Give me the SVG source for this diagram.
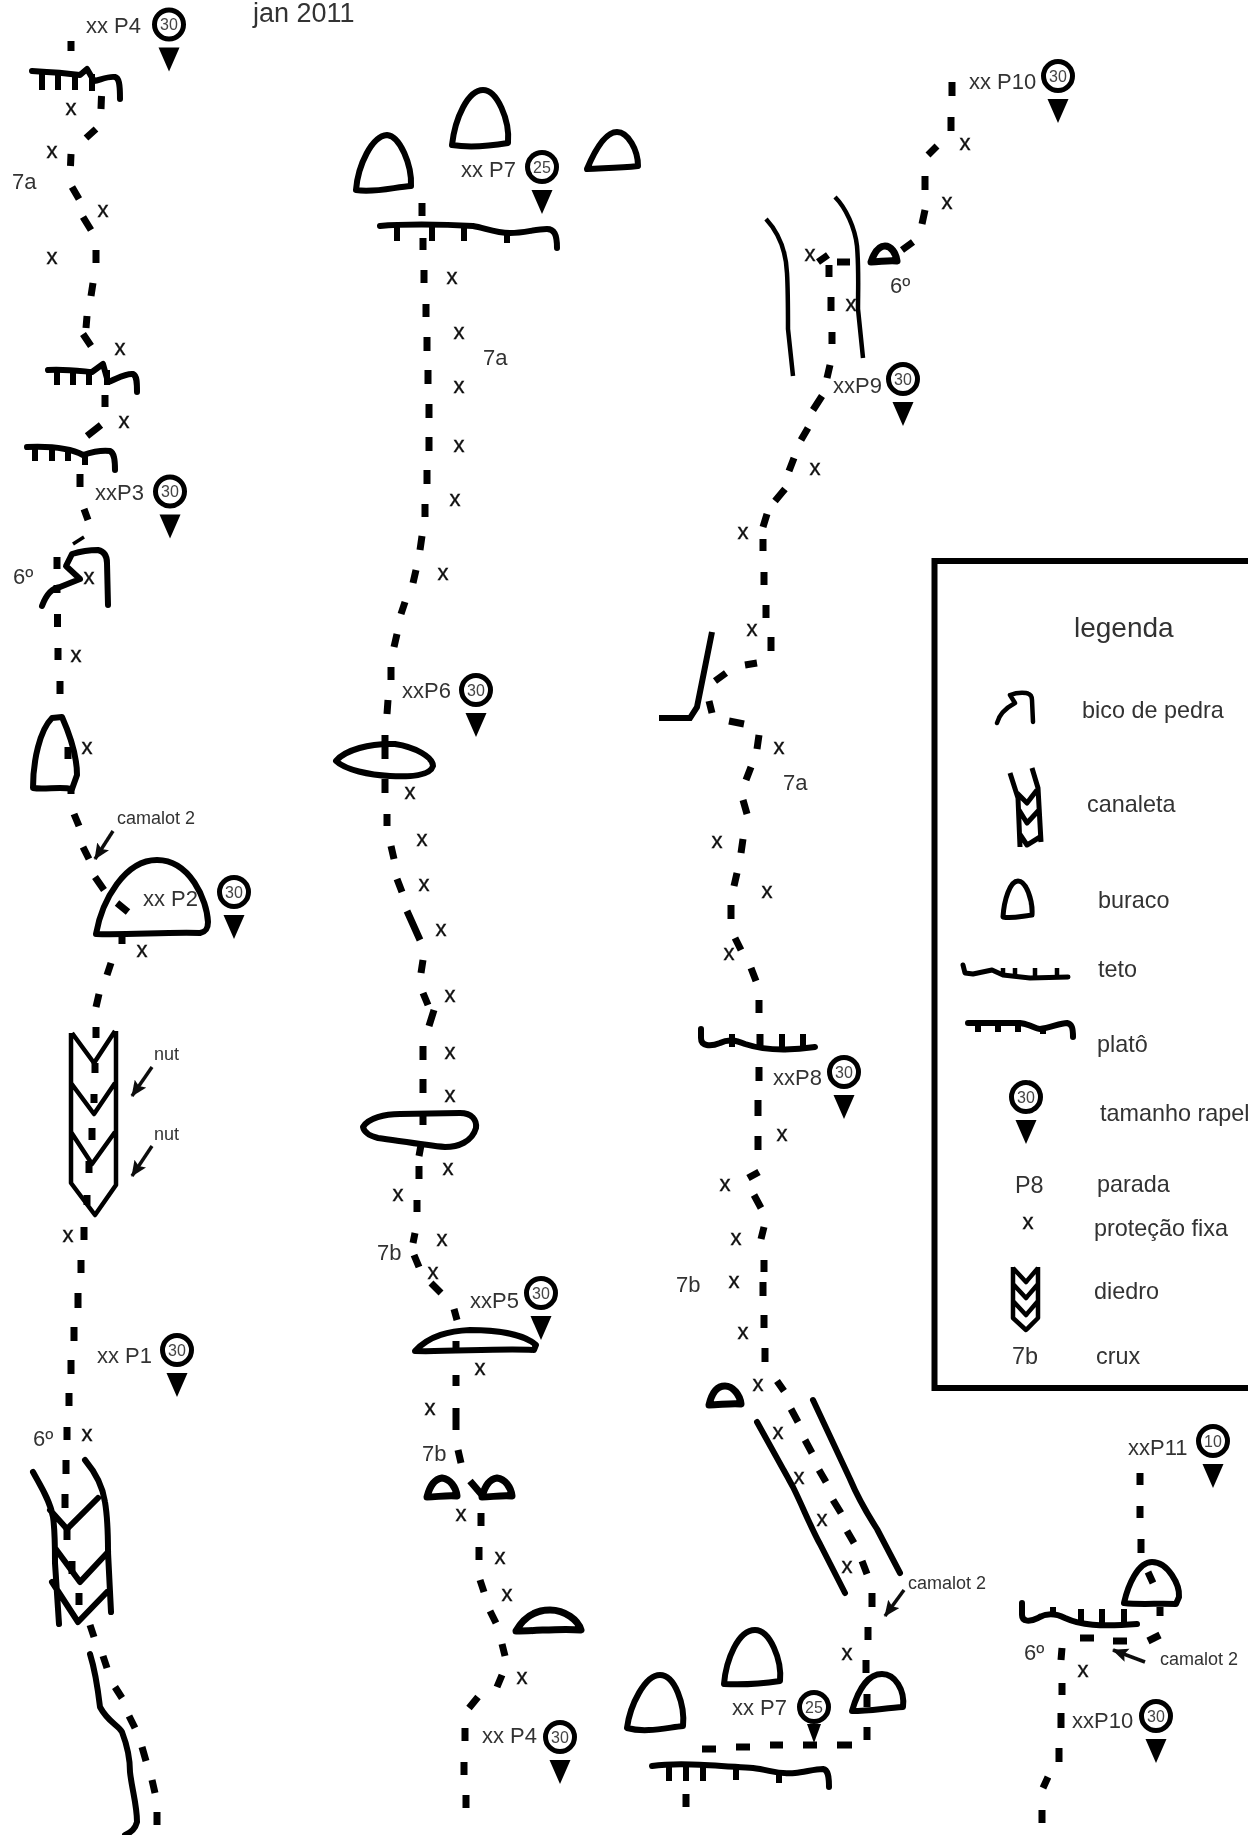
<svg xmlns="http://www.w3.org/2000/svg" xmlns:xlink="http://www.w3.org/1999/xlink" width="1248" height="1836" viewBox="0 0 1248 1836">
<style>
text{font-family:"Liberation Sans",Arial,sans-serif;fill:#333}
.l{font-size:22px}
.s{font-size:18px}
.g{font-size:23.4px}
.x{font-size:22px;text-anchor:middle;fill:#111;stroke:#111;stroke-width:.4}
.n{font-size:16px;text-anchor:middle;fill:#444}
.b{fill:none;stroke:#000;stroke-width:6;stroke-linejoin:round;stroke-linecap:round}
.h{fill:none;stroke:#000;stroke-width:7;stroke-linejoin:round;stroke-linecap:round}
.t{fill:none;stroke:#000;stroke-width:4.500;stroke-linejoin:round}
.k{fill:none;stroke:#000;stroke-width:6}
.d{fill:none;stroke:#000;stroke-width:7}
.a{fill:none;stroke:#111;stroke-width:3.500;marker-end:url(#ah)}
</style>
<defs>
<filter id="soft" x="0" y="0" width="100%" height="100%"><feGaussianBlur stdDeviation="0.7"/></filter>
<marker id="ah" markerUnits="userSpaceOnUse" markerWidth="18" markerHeight="16" refX="15" refY="7" orient="auto"><path d="M0,0 L16,7 L0,14 L3,7Z" fill="#111"/></marker>
<g id="rap"><circle cx="0" cy="0" r="14.5" fill="#fff" stroke="#000" stroke-width="5"/><path d="M-10.5,23 H10.5 L0,47Z" fill="#000"/></g>
</defs>
<rect width="1248" height="1836" fill="#fff"/>
<g filter="url(#soft)">
<g id="connectors">
<path class="d" id="route-1" d="M71 41V51M101.5 96L101 109M86 138L96 129M71 154L70.5 166M72 187L79 199M83 217L91 230M96 250V263M93 283L91 296M87 316L86 328M83 334L91 346M105 395V407M87 436L101 425M80 474V487M84 509L88 520M57 557V569M57 585V593M57.500 614V627M58 648V660M60 681V694M68 747V759M71 786V794M74 814L79 826M83 847L89 859M95 877L104 890M117 903L128 912M122 934V944M111 963L107 975M99 994L96 1007M96 1027V1038M95 1063V1073M94 1094V1103M92 1128V1140M89 1161V1173M87 1195V1205M84 1227V1240M81 1260V1273M78 1293V1308M74 1327V1341M71 1360V1374M69 1393V1406M67 1427V1440M66 1460V1474M65 1494V1508M67 1529V1540M72 1561V1574M79 1593V1605M90 1625L94 1637M103 1656L107 1668M115 1687L122 1698M129 1716L135 1728M142 1747L146 1761M152 1780L155 1793M157 1812V1825"/>
<path d="M73 544L84 537" class="k" style="stroke-width:3.500"/>
<path class="d" id="route-2" d="M422 203V216M423 238V250M424 270V283M426 304V317M427 337V351M428 370V384M429 404V418M429 437V451M427 470V484M425 504V517M422 536L420 550M416 570L413 583M405 602L401 614M397 634L394 647M391 667V680M388 700L387 714M385 735V759M385 779V793M387 814V826M391 846L394 859M397 879L402 892M407 911L420 940M423 960L421 973M423 993L428 1005M434 1010L429 1026M423 1046V1060M423 1079V1093M423 1115V1125M421 1145L419 1156M419 1166V1179M417 1200V1212M415 1233L413 1243M414 1255L419 1267M431 1283L441 1293M454 1309L457 1320M456 1341V1353M456 1375V1386M456 1408V1430M458 1450L461 1463M470 1481L482 1495M481 1513V1526M479 1547V1560M480 1580L484 1592M490 1611L496 1623M502 1644L505 1656M502 1675L497 1687M478 1697L469 1708M465 1728V1741M464 1762V1775M466 1795V1808"/>
<path class="d" id="route-3" d="M952 82V96M951 117V131M937 146L928 155M925 176V190M925 210L922 224M913 242L902 250M850 262H837M828 255L818 262M829 265V277M831 297V311M832 332V344M830 365L827 378M822 396L813 410M808 428L801 440M794 458L789 471M785 489L775 501M767 514L763 527M763 539V551M764 572V585M766 605V618M771 637V651M757 663L745 665M726 673L715 681M709 701L712 713M729 721L744 724M759 735L757 749M751 767L746 780M743 800L747 814M743 839L741 853M737 873L734 886M731 905V919M735 938L741 950M751 968L756 981M759 1000V1013M760 1034V1048M759 1067V1081M758 1100V1116M758 1136V1150M759 1172L748 1178M754 1195L761 1208M764 1227L761 1239M764 1260V1272M763 1282V1296M764 1315V1328M765 1348V1362M777 1381L784 1391M791 1409L798 1422M805 1440L812 1453M819 1470L826 1482M833 1500L841 1513M847 1531L854 1543M862 1561L867 1574M872 1593V1607M868 1627V1640M866 1660V1673M867 1694V1707M867 1727V1740M852 1745H837M817 1745H803M783 1745H770M750 1747H736M716 1749H702M686 1794V1807"/>
<path class="d" id="route-4" d="M1140 1473V1485M1140 1506V1518M1141 1539V1553M1148 1572L1153 1583M1160 1607V1616M1160 1635L1148 1641M1127 1641H1113M1094 1638H1080M1062 1648L1061 1660M1062 1683V1695M1061 1713V1728M1059 1748V1762M1048 1777L1043 1788M1042 1810V1823"/>
<path class="a" d="M113 831L95 859"/>
<path class="a" d="M152 1067L132 1096"/>
<path class="a" d="M152 1146L132 1176"/>
<path class="a" d="M904 1590L885 1616"/>
<path class="a" d="M1145 1662L1113 1650"/>
</g>

<g id="title"><text x="253" y="22" style="font-size:27px">jan 2011</text></g>

<g id="plato-1"><path class="b" d="M32 71C50 72 65 73 80 75L87 69L94 81C100 80 108 76 115 77C119 78 120 84 120 99"/><path class="k" d="M42 72V90M58 73V90M75 74V90M92 74V91"/></g>
<g id="plato-2"><path class="b" d="M48 370C65 369 80 371 92 372L103 364L108 382C115 380 125 373 133 374C137 376 137 382 137 392"/><path class="k" d="M57 371V385M73 372V385M89 373V385M107 370V385"/></g>
<g id="plato-3"><path class="b" d="M27 447C50 446 70 448 83 455C92 452 102 450 110 451C114 453 115 459 115 470"/><path class="k" d="M35 448V461M52 448V461M68 449V461M85 453V465"/></g>
<g id="bico-1"><path class="b" d="M42 606C46 595 52 588 60 587L80 579L66 566L72 554Q85 550 98 550Q107 552 107 563L108 605"/></g>
<g id="buraco-1"><path class="b" d="M33 788C33 760 40 730 52 718L62 717C70 735 77 755 77 775L72 789C60 786 45 790 33 788Z"/></g>
<g id="buraco-p2"><path class="b" d="M96 934C102 900 125 860 157 860C190 860 207 900 208 922C208 930 205 932 200 933C165 932 130 935 96 934Z"/></g>
<g id="diedro-1"><path class="t" d="M71 1033V1183L95 1215L116 1185V1031M72 1033L94 1063L115 1031M71 1083L94 1114L115 1083M71 1132L92 1164L115 1132"/></g>
<g id="canaleta-1"><path class="b" d="M33 1472C40 1485 50 1500 53 1517C55 1530 55 1548 55 1563L59 1624M85 1460C95 1472 103 1488 105 1502C108 1520 108 1535 108 1552L111 1612M50 1510L67 1529L98 1498M55 1548L80 1582L108 1552M52 1582L78 1622L107 1592"/></g>
<g id="fissura-1"><path class="b" d="M90 1654C95 1670 98 1690 100 1707C108 1722 118 1725 122 1732C127 1745 130 1760 130 1772C132 1790 137 1805 137 1822C135 1830 130 1833 125 1835"/></g>

<g id="buraco-a"><path class="b" d="M356 190C358 165 372 136 387 135C400 136 412 165 411 186C395 187 375 193 356 190Z"/></g>
<g id="buraco-b"><path class="b" d="M452 145C455 118 468 90 483 90C497 90 510 120 508 143C490 146 470 148 452 145Z"/></g>
<g id="buraco-c"><path class="b" d="M587 169C595 150 605 132 617 132C628 132 638 150 638 166C620 168 605 168 587 169Z"/></g>
<g id="teto-p7"><path class="b" d="M380 226C400 224 440 224 473 226C485 228 495 233 510 233C525 233 535 229 547 229C554 229 557 234 557 248"/><path class="k" d="M397 227V241M432 226V241M464 227V241M507 233V243"/></g>
<g id="furo-p6"><path class="b" d="M336 761C345 750 370 743 395 744C415 747 433 757 433 766C430 776 410 777 390 776C370 775 345 770 336 761Z"/></g>
<g id="furo-2"><path class="b" d="M363 1127C368 1118 385 1114 400 1114L460 1113C472 1113 477 1120 476 1128C472 1142 458 1147 445 1147C425 1145 400 1141 378 1138C370 1136 364 1132 363 1127Z"/></g>
<g id="lente-p5"><path class="b" d="M415 1351C430 1335 450 1331 470 1330C500 1330 525 1335 536 1345L534 1350C500 1348 450 1352 415 1351Z"/></g>
<g id="buraco-d"><path class="h" d="M427 1497C430 1485 435 1479 442 1478C450 1479 456 1487 457 1496C446 1495 437 1497 427 1497Z"/></g>
<g id="buraco-e"><path class="h" d="M482 1497C485 1485 490 1479 497 1478C505 1479 511 1487 512 1496C501 1495 492 1497 482 1497Z"/></g>
<g id="lente-2"><path class="h" d="M516 1631C525 1615 538 1610 550 1610C565 1610 578 1620 581 1630C560 1628 540 1631 516 1631Z"/></g>

<g id="buraco-f"><path class="h" d="M871 262C875 250 880 246 885 246C891 246 896 253 897 261C888 260 880 262 871 262Z"/></g>
<g id="fenda-1"><path class="t" d="M766 219C778 232 786 250 787 273C788 290 788 310 788 329L793 376"/><path class="t" d="M835 197C846 208 855 228 857 246C859 270 858 290 858 309L863 358"/></g>
<g id="canto-1"><path class="k" d="M712 632L697 707L690 718H659"/></g>
<g id="teto-p8"><path class="b" d="M701 1029V1038C701 1046 710 1047 720 1043C728 1039 735 1040 745 1044C760 1049 780 1052 815 1047"/><path class="k" d="M732 1047V1034M760 1049V1034M782 1050V1034M803 1050V1034"/></g>
<g id="buraco-g"><path class="h" d="M709 1405C712 1392 718 1386 725 1386C733 1386 740 1395 741 1404C730 1403 720 1405 709 1405Z"/></g>
<g id="fenda-2"><path class="b" d="M757 1422L793 1487C802 1505 812 1530 820 1544L845 1593M813 1400L850 1479C858 1498 868 1515 877 1529L900 1573"/></g>
<g id="buraco-h"><path class="b" d="M724 1684C726 1660 738 1630 755 1630C770 1630 782 1660 780 1681C760 1684 742 1685 724 1684Z"/></g>
<g id="buraco-i"><path class="b" d="M627 1728C630 1705 645 1675 660 1675C675 1675 685 1705 683 1726C665 1728 645 1733 627 1728Z"/></g>
<g id="buraco-j"><path class="b" d="M852 1711C858 1690 868 1674 882 1674C895 1674 905 1690 903 1707C885 1708 870 1711 852 1711Z"/></g>
<g id="teto-p7b"><path class="b" d="M652 1766C680 1762 720 1766 753 1768C770 1770 780 1775 795 1773C805 1772 815 1769 823 1769C828 1770 829 1776 829 1787"/><path class="k" d="M669 1767V1781M686 1765V1781M703 1767V1781M736 1768V1780M779 1773V1783"/></g>
<g id="buraco-k"><path class="b" d="M1124 1603C1128 1585 1138 1562 1152 1562C1168 1562 1180 1585 1179 1597L1176 1604C1160 1603 1140 1605 1124 1603Z"/></g>
<g id="teto-p11"><path class="b" d="M1022 1603V1615C1022 1622 1030 1622 1038 1618C1046 1613 1055 1613 1065 1618C1080 1625 1100 1627 1137 1624"/><path class="k" d="M1053 1616V1607M1081 1624V1609M1102 1626V1609M1124 1626V1609"/></g>

<g id="p4a"><text class="l" x="86" y="33">xx P4</text><use xlink:href="#rap" href="#rap" x="169" y="24.500"/><text class="n" x="169" y="30">30</text></g>
<g id="p3"><text class="l" x="95" y="500">xxP3</text><use xlink:href="#rap" href="#rap" x="170" y="491.500"/><text class="n" x="170" y="497">30</text></g>
<g id="p2"><text class="l" x="143" y="905.500">xx P2</text><use xlink:href="#rap" href="#rap" x="234" y="892"/><text class="n" x="234" y="898">30</text></g>
<g id="p1"><text class="l" x="97" y="1363">xx P1</text><use xlink:href="#rap" href="#rap" x="177" y="1350"/><text class="n" x="177" y="1356">30</text></g>
<g id="p7"><text class="l" x="461" y="177">xx P7</text><use xlink:href="#rap" href="#rap" x="542" y="167"/><text class="n" x="542" y="173">25</text></g>
<g id="p6"><text class="l" x="402" y="698">xxP6</text><use xlink:href="#rap" href="#rap" x="476" y="690"/><text class="n" x="476" y="696">30</text></g>
<g id="p5"><text class="l" x="470" y="1308">xxP5</text><use xlink:href="#rap" href="#rap" x="541" y="1293"/><text class="n" x="541" y="1299">30</text></g>
<g id="p4b"><text class="l" x="482" y="1743">xx P4</text><use xlink:href="#rap" href="#rap" x="560" y="1737"/><text class="n" x="560" y="1743">30</text></g>
<g id="p10a"><text class="l" x="969" y="89">xx P10</text><use xlink:href="#rap" href="#rap" x="1058" y="76"/><text class="n" x="1058" y="82">30</text></g>
<g id="p9"><text class="l" x="833" y="393">xxP9</text><use xlink:href="#rap" href="#rap" x="903" y="379"/><text class="n" x="903" y="385">30</text></g>
<g id="p8"><text class="l" x="773" y="1085">xxP8</text><use xlink:href="#rap" href="#rap" x="844" y="1072"/><text class="n" x="844" y="1078">30</text></g>
<g id="p7b"><text class="l" x="732" y="1715">xx P7</text><path d="M807 1724H821L814 1743Z" fill="#000"/><circle cx="814" cy="1707" r="14.500" fill="#fff" stroke="#000" stroke-width="5"/><text class="n" x="814" y="1713">25</text></g>
<g id="p11"><text class="l" x="1128" y="1455">xxP11</text><use xlink:href="#rap" href="#rap" x="1213" y="1441"/><text class="n" x="1213" y="1447">10</text></g>
<g id="p10b"><text class="l" x="1072" y="1728">xxP10</text><use xlink:href="#rap" href="#rap" x="1156" y="1716"/><text class="n" x="1156" y="1722">30</text></g>

<g id="labels">
<text class="l" x="12" y="189">7a</text>
<text class="l" x="13" y="584">6º</text>
<text class="s" x="117" y="824">camalot 2</text>
<text class="s" x="154" y="1060">nut</text>
<text class="s" x="154" y="1140">nut</text>
<text class="l" x="33" y="1446">6º</text>
<text class="l" x="483" y="365">7a</text>
<text class="l" x="377" y="1260">7b</text>
<text class="l" x="422" y="1461">7b</text>
<text class="l" x="890" y="293">6º</text>
<text class="l" x="783" y="790">7a</text>
<text class="l" x="676" y="1292">7b</text>
<text class="s" x="908" y="1589">camalot 2</text>
<text class="l" x="1024" y="1660">6º</text>
<text class="s" x="1160" y="1665">camalot 2</text>
</g>
<g id="protecoes">
<text class="x" x="71" y="115">x</text><text class="x" x="52" y="158">x</text><text class="x" x="103" y="217">x</text><text class="x" x="52" y="264">x</text><text class="x" x="120" y="355">x</text><text class="x" x="124" y="428">x</text><text class="x" x="89" y="584">x</text><text class="x" x="76" y="662">x</text><text class="x" x="87" y="754">x</text><text class="x" x="142" y="957">x</text><text class="x" x="68" y="1242">x</text><text class="x" x="87" y="1441">x</text>
<text class="x" x="452" y="284">x</text><text class="x" x="459" y="339">x</text><text class="x" x="459" y="393">x</text><text class="x" x="459" y="452">x</text><text class="x" x="455" y="506">x</text><text class="x" x="443" y="580">x</text><text class="x" x="410" y="799">x</text><text class="x" x="422" y="846">x</text><text class="x" x="424" y="891">x</text><text class="x" x="441" y="936">x</text><text class="x" x="450" y="1002">x</text><text class="x" x="450" y="1059">x</text><text class="x" x="450" y="1102">x</text><text class="x" x="448" y="1175">x</text><text class="x" x="398" y="1201">x</text><text class="x" x="442" y="1246">x</text><text class="x" x="433" y="1279">x</text><text class="x" x="480" y="1375">x</text><text class="x" x="430" y="1415">x</text><text class="x" x="461" y="1521">x</text><text class="x" x="500" y="1564">x</text><text class="x" x="507" y="1601">x</text><text class="x" x="522" y="1684">x</text>
<text class="x" x="965" y="150">x</text><text class="x" x="947" y="209">x</text><text class="x" x="810" y="261">x</text><text class="x" x="851" y="311">x</text><text class="x" x="815" y="475">x</text><text class="x" x="743" y="539">x</text><text class="x" x="752" y="636">x</text><text class="x" x="779" y="754">x</text><text class="x" x="717" y="848">x</text><text class="x" x="767" y="898">x</text><text class="x" x="729" y="960">x</text><text class="x" x="782" y="1141">x</text><text class="x" x="725" y="1191">x</text><text class="x" x="736" y="1245">x</text><text class="x" x="734" y="1288">x</text><text class="x" x="743" y="1339">x</text><text class="x" x="758" y="1391">x</text><text class="x" x="778" y="1439">x</text><text class="x" x="799" y="1484">x</text><text class="x" x="822" y="1526">x</text><text class="x" x="847" y="1573">x</text><text class="x" x="847" y="1660">x</text><text class="x" x="1083" y="1677">x</text>
</g>

<g id="legenda">
<rect x="934.500" y="561" width="330" height="827" fill="none" stroke="#000" stroke-width="6"/>
<text x="1074" y="637" style="font-size:28px">legenda</text>
<g id="leg-bico"><path class="b" style="stroke-width:4.500" d="M997 723C999 715 1004 709 1015 703L1010 695Q1018 692 1026 693Q1032 694 1032 700L1033 722"/><text class="g" x="1082" y="718">bico de pedra</text></g>
<g id="leg-canaleta"><path class="t" style="stroke-width:5" d="M1010 773L1018 798L1020 847M1032 768L1038 788L1041 842M1017 793L1027 803L1037 790M1019 810L1027 823L1039 810M1019 833L1027 845L1040 837"/><text class="g" x="1087" y="812">canaleta</text></g>
<g id="leg-buraco"><path class="b" style="stroke-width:5" d="M1003 917C1004 900 1010 881 1018 881C1026 881 1033 900 1032 915C1022 916 1012 919 1003 917Z"/><text class="g" x="1098" y="908">buraco</text></g>
<g id="leg-teto"><path class="b" style="stroke-width:5" d="M963 965L965 973L973 974L992 970L1003 975L1030 978L1068 977"/><path class="t" d="M1003 975V968M1015 977V968M1035 978V968M1057 977V968"/><text class="g" x="1098" y="977">teto</text></g>
<g id="leg-plato"><path class="b" d="M968 1023H1020C1030 1024 1035 1029 1040 1029C1050 1028 1060 1023 1067 1023C1072 1024 1073 1028 1073 1037"/><path class="k" d="M978 1024V1032M998 1024V1032M1018 1024V1032M1043 1028V1034"/><text class="g" x="1097" y="1052">platô</text></g>
<g id="leg-rapel"><use xlink:href="#rap" href="#rap" x="1026" y="1097"/><text class="n" x="1026" y="1103">30</text><text class="g" x="1100" y="1121">tamanho rapel</text></g>
<g id="leg-parada"><text class="g" x="1015" y="1193">P8</text><text class="g" x="1097" y="1192">parada</text></g>
<g id="leg-fixa"><text class="x" x="1028" y="1229">x</text><text class="g" x="1094" y="1236">proteção fixa</text></g>
<g id="leg-diedro"><path class="t" d="M1013 1267V1318L1026 1330L1038 1318V1267M1013 1268L1026 1282L1038 1268M1013 1284L1026 1298L1038 1284M1013 1301L1026 1315L1038 1301"/><text class="g" x="1094" y="1299">diedro</text></g>
<g id="leg-crux"><text class="g" x="1012" y="1364">7b</text><text class="g" x="1096" y="1364">crux</text></g>
</g>
</g>
</svg>
